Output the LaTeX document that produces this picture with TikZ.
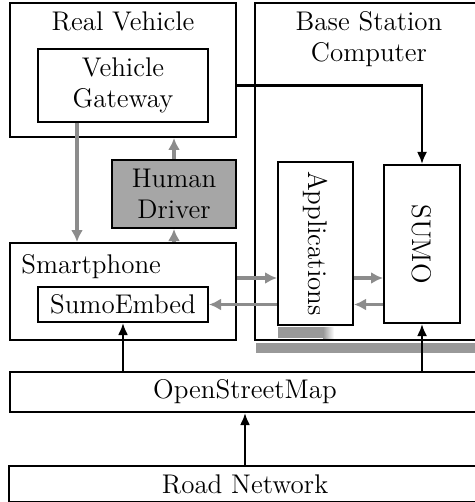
\documentclass[tikz,border=0pt]{standalone}
\usepackage{tikz}
\usepackage{graphicx}
\usetikzlibrary{positioning,calc,arrows.meta}
\definecolor{drvgray}{gray}{0.65}
\definecolor{lnkgray}{gray}{0.55}
\definecolor{shdgray}{gray}{0.6}

\begin{document}
\begin{tikzpicture}[x=0.5pt,y=-0.5pt,font=\fontsize{13.5}{15.5}\selectfont,
 b/.style={draw,line width=1pt,fill=white,align=center,inner sep=0pt},
 ttl/.style={anchor=north,align=center,inner sep=0pt,yshift=-4.5pt},
 ar/.style={-{Latex[length=6pt,width=5pt]},line width=1.1pt},
 gar/.style={-{Latex[length=6pt,width=6pt]},draw=lnkgray,fill=lnkgray,line width=1.6pt}]
\useasboundingbox (0,0) rectangle (475,502);
\node[b,minimum width=113pt,minimum height=67pt,label={[ttl]north:Real Vehicle}] (veh) at (123,70) {};
\node[b,minimum width=85pt,minimum height=36.5pt] (gw) at (123,85.5) {Vehicle\\ Gateway};
\node[b,minimum width=114pt,minimum height=168.5pt,label={[ttl]north:Base Station\\ Computer}] (base) at (369,171.5) {};
\node[b,fill=drvgray,minimum width=62pt,minimum height=34pt] (drv) at (174,194) {Human\\ Driver};
\node[b,minimum width=37.5pt,minimum height=81.5pt] (app) at (315.5,243.5) {\rotatebox{-90}{Applications}};
\node[b,minimum width=38pt,minimum height=79pt] (sumo) at (422,244) {\rotatebox{-90}{SUMO}};
\node[b,minimum width=113pt,minimum height=48.5pt,label={[ttl,anchor=north west,xshift=6pt,yshift=-1.5pt]north west:Smartphone}] (phone) at (123,291.5) {};
\node[b,minimum width=85pt,minimum height=17.5pt] (emb) at (123,304.5) {SumoEmbed};
\node[b,minimum width=235pt,minimum height=20pt] (osm) at (245,392) {OpenStreetMap};
\node[b,minimum width=236pt,minimum height=18pt,below=26pt of osm] (road) {Road Network};
% shadows
\fill[shdgray] ($(base.south west)+(2,2)$) rectangle ($(base.south east)+(10,12)$);
\fill[shdgray] ($(app.south west)+(1,1)$) rectangle ($(app.south west)+(46,12)$);
\shade[left color=shdgray,right color=white] ($(app.south west)+(46,1)$) rectangle ($(app.south west)+(57,12)$);
% links
\draw[ar] (veh.east |- gw.east) -| (sumo.north);
\draw[gar] ([xshift=-23pt]gw.south) -- ([xshift=-23pt]gw.south |- phone.north);
\draw[gar] (drv.north) -- (drv.north |- veh.south);
\draw[gar] (drv.south |- phone.north) -- (drv.south);
\draw[gar] ([yshift=6.75pt]phone.east) -- ([yshift=6.75pt]phone.east -| app.west);
\draw[gar] (app.west |- emb.east) -- (emb.east);
\draw[gar] ([yshift=6.75pt]phone.east -| app.east) -- ([yshift=6.75pt]phone.east -| sumo.west);
\draw[gar] (sumo.west |- emb.east) -- (app.east |- emb.east);
\draw[ar] (osm.north -| emb.south) -- (emb.south);
\draw[ar] (osm.north -| sumo.south) -- (sumo.south);
\draw[ar] (road.north) -- (road.north |- osm.south);
\end{tikzpicture}
\end{document}
